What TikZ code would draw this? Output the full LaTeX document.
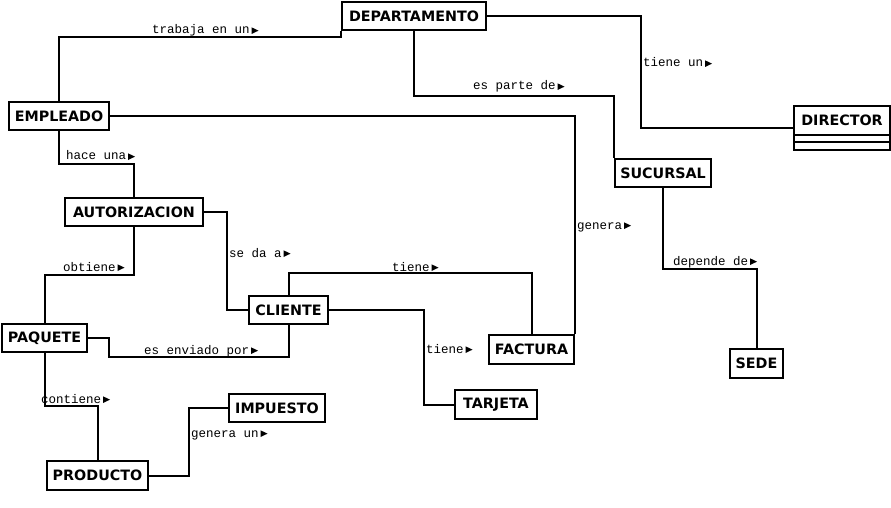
\documentclass[tikz,border=0pt]{standalone}
\usepackage{fontspec}
\setmainfont{DejaVu Sans}
\setmonofont{Liberation Mono}

\begin{document}
\begin{tikzpicture}[x = 1pt, y = -1pt, line width = 2pt,
	caja/.style = {draw, inner sep = 0pt, anchor = north west, minimum height = 28pt,
		font = \bfseries\fontsize{14.3}{17}\selectfont},
	rel/.style = {inner sep = 0pt, anchor = base west,
		font = \ttfamily\fontsize{12.5}{14}\selectfont}]

	\useasboundingbox (0, 0) rectangle (891, 508);

	% Entidades
	
	\node [caja, minimum width = 144pt] (dep) at (341, 1) {DEPARTAMENTO};
	\node [caja, minimum width = 100pt] (emp) at (8, 101) {EMPLEADO};
	\node [caja, minimum width = 138pt] (aut) at (64, 197) {AUTORIZACION};
	\node [caja, minimum width = 96pt, minimum height = 44pt] (dir) at (793, 105) {};
	\node [caja, minimum width = 96pt, minimum height = 29pt] (dirn) at (dir.north west) {DIRECTOR};
	\draw ([yshift = 9pt] dir.south west) -- ([yshift = 9pt] dir.south east);
	\node [caja, minimum width = 96pt] (suc) at (614, 158) {SUCURSAL};
	\node [caja, minimum width = 79pt] (cli) at (248, 295) {CLIENTE};
	\node [caja, minimum width = 85pt] (paq) at (1, 323) {PAQUETE};
	\node [caja, minimum width = 96pt] (imp) at (228, 393) {IMPUESTO};
	\node [caja, minimum width = 101pt, minimum height = 29pt] (pro) at (46, 460) {PRODUCTO};
	\node [caja, minimum width = 85pt, minimum height = 29pt] (fac) at (488, 334) {FACTURA};
	\node [caja, minimum width = 82pt, minimum height = 29pt] (tar) at (454, 389) {TARJETA};
	\node [caja, minimum width = 53pt, minimum height = 29pt] (sede) at (729, 348) {SEDE};

	% Relaciones
	
	\draw (emp.north) -- ++(0, -64) -| (dep.south west);
	\draw (dep.south) -- ++(0, 65) -| (suc.north west);
	\draw (dep.east) -- ++(154, 0) |- (dir.west);
	\draw (emp.east) -| (fac.north east);
	\draw (emp.south) -- ++(0, 33) -| (aut.north);
	\draw (aut.south) -- ++(0, 48) -| (paq.north);
	\draw (aut.east) -- ++(23, 0) |- (cli.west);
	\draw (cli.north) -- ++(0, -22) -| (fac.north);
	\draw (cli.east) -- ++(95, 0) |- (tar.west);
	\draw (paq.east) -- ++(21, 0) -- ++(0, 19) -| (cli.south);
	\draw (paq.south) -- ++(0, 53) -| (pro.north);
	\draw (pro.east) -- ++(40, 0) |- (imp.west);
	\draw (suc.south) -- ++(0, 81) -| (sede.north);

	% Etiquetas
	
	\node [rel] (trabaja) at (151, 34) {trabaja en un};
	\node [rel] (parte) at (472, 90) {es parte de};
	\node [rel] (tieneun) at (642, 67) {tiene un};
	\node [rel] (genera) at (576, 229) {genera~};
	\node [rel] (hace) at (65, 160) {hace una};
	\node [rel] (obtiene) at (62, 271) {obtiene};
	\node [rel] (seda) at (228, 257) {se da a};
	\node [rel] (tienefac) at (391, 271) {tiene};
	\node [rel] (tienetar) at (425, 353) {tiene};
	\node [rel] (enviado) at (143, 354) {es enviado por};
	\node [rel] (contiene) at (40, 403) {contiene};
	\node [rel] (generaun) at (190, 437) {genera un};
	\node [rel] (depende) at (672, 265) {depende de};
	
	\foreach \n in {trabaja, parte, tieneun, genera, hace, obtiene, seda, tienefac, tienetar, enviado, contiene, generaun, depende}
		\fill ([xshift = 1pt] \n.base east) -- ++(0, -6.7) -- ++(7, 3.35) -- cycle;

\end{tikzpicture}
\end{document}
